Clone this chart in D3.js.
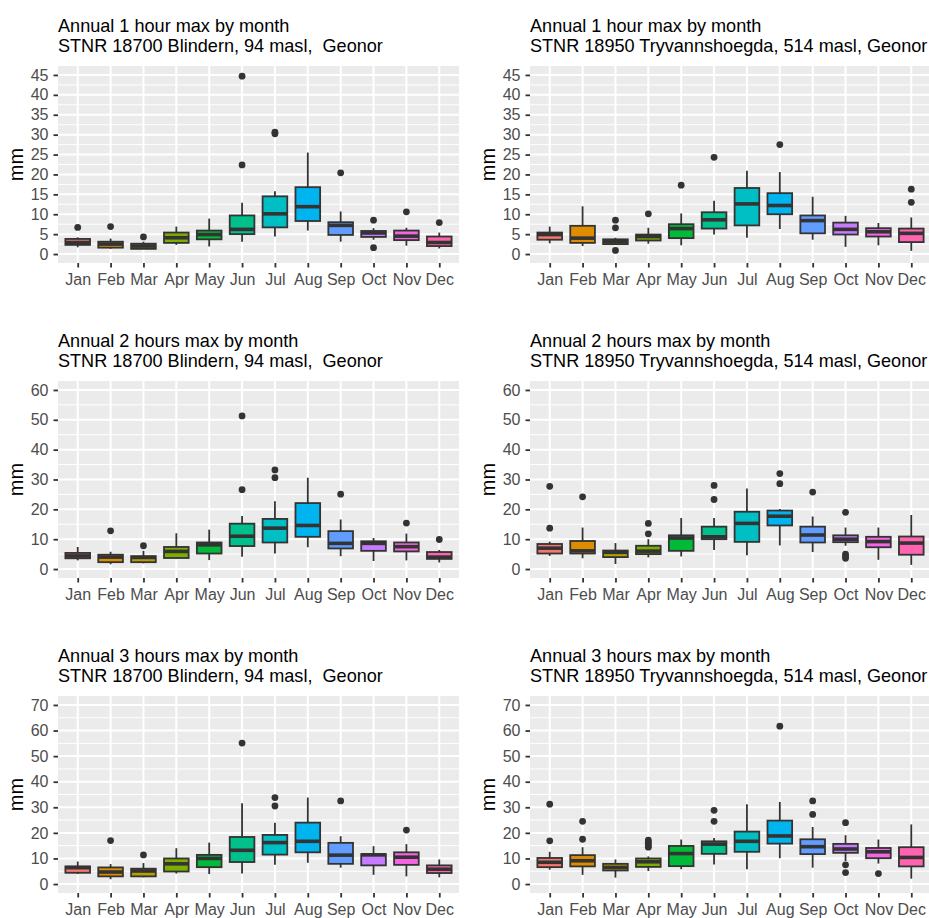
<!DOCTYPE html>
<html><head><meta charset="utf-8">
<script src="https://cdn.jsdelivr.net/npm/d3@7"></script>
<style>
body{margin:0;background:#fff;}
svg{display:block;font-family:"Liberation Sans",Arial,sans-serif;}
</style></head>
<body>
<svg id="chart" width="929" height="918"></svg>
<script>
const months = ["Jan","Feb","Mar","Apr","May","Jun","Jul","Aug","Sep","Oct","Nov","Dec"];
const palette = ["#F8766D","#DE8C00","#B79F00","#7CAE00","#00BA38","#00C08B","#00BFC4","#00B4F0","#619CFF","#C77CFF","#F564E3","#FF64B0"];

const titleLine2Blindern = "STNR 18700 Blindern, 94 masl,  Geonor";
const titleLine2Tryvann = "STNR 18950 Tryvannshoegda, 514 masl, Geonor";

const ticks1h = [0,5,10,15,20,25,30,35,40,45];
const ticks2h = [0,10,20,30,40,50,60];
const ticks3h = [0,10,20,30,40,50,60,70];

// 1 hour, Blindern
const b1_lo  = [1.7,1.3,1.3,2.3,1.9,3.1,4.4,5.9,3.1,3.6,2.1,1.4];
const b1_q1  = [2.3,1.6,1.3,2.8,3.7,5.0,6.7,8.3,4.8,4.3,3.5,2.0];
const b1_med = [2.9,2.5,2.0,4.1,4.9,6.2,10.1,11.9,7.2,5.3,4.5,2.9];
const b1_q3  = [3.8,3.1,2.6,5.4,5.9,9.7,14.5,16.8,8.0,5.8,5.9,4.4];
const b1_hi  = [4.2,3.9,3.1,6.9,8.9,12.9,15.8,25.5,10.7,6.5,6.6,5.4];
const b1_out = [[6.7],[6.9],[4.3],[],[],[22.4,44.7],[30.2,30.6],[],[20.4],[8.5,1.6],[10.6],[7.9]];

// 1 hour, Tryvannshoegda
const t1_lo  = [2.7,2.0,2.3,2.6,2.2,4.9,4.1,6.3,3.6,1.8,2.2,0.8];
const t1_q1  = [3.6,2.8,2.5,3.4,4.0,6.4,7.2,10.0,5.2,4.9,4.4,3.0];
const t1_med = [4.9,4.0,3.1,4.4,6.4,8.6,12.6,12.2,8.4,6.2,5.6,5.2];
const t1_q3  = [5.4,7.1,3.7,4.9,7.5,10.5,16.6,15.3,9.7,7.9,6.5,6.4];
const t1_hi  = [6.9,12.0,4.1,6.6,10.2,13.4,20.9,20.6,14.4,9.6,7.8,9.2];
const t1_out = [[],[],[8.5,6.6,0.9],[10.1],[17.3],[24.3],[],[27.5],[],[],[],[13.0,16.3]];

// 2 hours, Blindern
const b2_lo  = [2.9,1.6,1.9,3.4,3.0,4.1,5.2,7.3,4.3,2.7,2.9,2.2];
const b2_q1  = [3.6,2.3,2.3,3.7,5.2,7.7,8.9,10.8,6.9,6.1,5.9,3.4];
const b2_med = [4.4,4.0,3.9,5.9,8.1,11.0,13.7,14.6,8.6,8.6,7.5,4.0];
const b2_q3  = [5.4,4.8,4.3,7.4,8.9,15.2,16.8,22.1,12.7,9.3,8.9,5.7];
const b2_hi  = [7.4,5.8,6.1,12.0,13.2,17.8,22.7,30.6,16.6,10.4,11.9,6.4];
const b2_out = [[],[12.8],[7.8],[],[],[26.6,51.3],[30.6,33.2],[],[25.1],[],[15.4],[9.9]];

// 2 hours, Tryvannshoegda
const t2_lo  = [4.4,3.6,1.7,3.9,4.2,6.4,4.6,7.9,5.7,7.8,3.1,1.4];
const t2_q1  = [5.2,5.2,4.0,5.0,6.1,10.0,9.1,14.6,8.9,9.0,7.3,4.8];
const t2_med = [7.0,6.1,5.6,6.0,10.4,10.8,15.3,17.7,11.4,10.0,9.2,8.7];
const t2_q3  = [8.4,9.4,6.2,7.8,11.3,14.2,19.2,19.6,14.2,11.3,10.8,10.9];
const t2_hi  = [9.2,13.9,8.7,10.0,17.1,17.1,27.0,20.1,17.6,13.9,13.9,18.1];
const t2_out = [[13.7,27.7],[24.2],[],[11.8,15.3],[],[23.3,28.0],[],[28.6,32.0],[25.8],[19.0,5.0,4.3,3.6],[],[]];

// 3 hours, Blindern
const b3_lo  = [3.9,1.9,2.6,4.1,3.9,4.1,7.5,8.3,6.4,3.6,3.0,2.6];
const b3_q1  = [4.4,3.0,3.0,4.9,6.6,8.6,11.5,12.4,7.9,7.3,7.5,4.3];
const b3_med = [6.4,4.7,5.1,7.9,10.0,13.2,16.2,16.7,11.3,11.4,10.5,5.8];
const b3_q3  = [6.9,6.5,6.0,10.0,11.4,18.4,19.2,24.0,16.1,11.7,12.4,7.3];
const b3_hi  = [8.8,7.8,8.2,14.0,16.2,31.6,24.0,33.8,18.7,14.8,15.6,9.6];
const b3_out = [[],[17.0],[11.4],[],[],[55.1],[30.5,33.8],[],[32.5],[],[21.1],[]];

// 3 hours, Tryvannshoegda
const t3_lo  = [5.6,3.6,2.5,5.1,5.8,7.6,5.8,10.1,6.4,9.0,8.0,2.1];
const t3_q1  = [6.6,6.9,5.3,6.7,7.0,11.8,12.6,15.8,11.7,12.2,10.1,6.9];
const t3_med = [8.5,9.1,6.5,8.7,11.9,15.6,16.7,18.8,14.6,13.7,12.6,10.4];
const t3_q3  = [10.2,11.3,7.9,10.0,14.9,16.7,20.5,24.8,17.5,15.7,14.1,14.4];
const t3_hi  = [12.6,14.4,9.6,10.8,17.4,18.0,31.2,32.1,22.3,19.1,17.4,23.3];
const t3_out = [[16.9,31.2],[17.5,24.5],[],[14.4,15.0,15.8,16.5,17.2],[],[24.5,28.8],[],[61.7],[27.2,32.5],[24.0,7.5,4.5],[4.1],[]];

function pack(lo,q1,med,q3,hi,out){
  return months.map((m,i)=>({m, i, lo:lo[i], q1:q1[i], med:med[i], q3:q3[i], hi:hi[i], out:out[i]}));
}

const panels = [
  {t1:"Annual 1 hour max by month", t2:titleLine2Blindern, ymax:45, ticks:ticks1h, col:0, row:0, data:pack(b1_lo,b1_q1,b1_med,b1_q3,b1_hi,b1_out)},
  {t1:"Annual 1 hour max by month", t2:titleLine2Tryvann, ymax:45, ticks:ticks1h, col:1, row:0, data:pack(t1_lo,t1_q1,t1_med,t1_q3,t1_hi,t1_out)},
  {t1:"Annual 2 hours max by month", t2:titleLine2Blindern, ymax:60, ticks:ticks2h, col:0, row:1, data:pack(b2_lo,b2_q1,b2_med,b2_q3,b2_hi,b2_out)},
  {t1:"Annual 2 hours max by month", t2:titleLine2Tryvann, ymax:60, ticks:ticks2h, col:1, row:1, data:pack(t2_lo,t2_q1,t2_med,t2_q3,t2_hi,t2_out)},
  {t1:"Annual 3 hours max by month", t2:titleLine2Blindern, ymax:70, ticks:ticks3h, col:0, row:2, data:pack(b3_lo,b3_q1,b3_med,b3_q3,b3_hi,b3_out)},
  {t1:"Annual 3 hours max by month", t2:titleLine2Tryvann, ymax:70, ticks:ticks3h, col:1, row:2, data:pack(t3_lo,t3_q1,t3_med,t3_q3,t3_hi,t3_out)}
];

const svg = d3.select("#chart");
const colX = [58, 530];
const rowY = [66, 381, 696];
const PW = 401, PH = 197;
const LW = 1.8;

panels.forEach(p=>{
  const x0 = colX[p.col], y0 = rowY[p.row];
  const g = svg.append("g");
  const x = d3.scalePoint().domain(months).range([x0, x0+PW]).padding(0.6);
  const y = d3.scaleLinear().domain([-0.05*p.ymax, 1.05*p.ymax]).range([y0+PH, y0]);
  const step = x.step();
  const bw = step*0.75;

  // titles
  g.append("text").attr("x", x0).attr("y", y0-34).attr("font-size", 18.1).attr("fill","#000").text(p.t1);
  g.append("text").attr("x", x0).attr("y", y0-14).attr("font-size", 18.1).attr("fill","#000").style("white-space","pre").attr("xml:space","preserve").text(p.t2);

  // panel background
  g.append("rect").attr("x", x0).attr("y", y0).attr("width", PW).attr("height", PH).attr("fill", "#EBEBEB");

  // minor gridlines
  const stepT = p.ticks[1]-p.ticks[0];
  const minor = p.ticks.map(t=>t+stepT/2).filter(v=>v < 1.05*p.ymax);
  g.selectAll(".minor").data(minor).join("line")
    .attr("x1", x0).attr("x2", x0+PW).attr("y1", d=>y(d)).attr("y2", d=>y(d))
    .attr("stroke","#fff").attr("stroke-width",1);
  // major gridlines
  g.selectAll(".majy").data(p.ticks).join("line")
    .attr("x1", x0).attr("x2", x0+PW).attr("y1", d=>y(d)).attr("y2", d=>y(d))
    .attr("stroke","#fff").attr("stroke-width",2);
  g.selectAll(".majx").data(months).join("line")
    .attr("x1", d=>x(d)).attr("x2", d=>x(d)).attr("y1", y0).attr("y2", y0+PH)
    .attr("stroke","#fff").attr("stroke-width",2);

  // axes
  const ya = g.append("g").attr("transform", `translate(${x0},0)`)
    .call(d3.axisLeft(y).tickValues(p.ticks).tickSize(4.5).tickPadding(5));
  const xa = g.append("g").attr("transform", `translate(0,${y0+PH})`)
    .call(d3.axisBottom(x).tickSize(4.5).tickPadding(6));
  [ya, xa].forEach(a=>{
    a.select(".domain").remove();
    a.selectAll(".tick line").attr("stroke","#333333").attr("stroke-width",1.8);
    a.selectAll(".tick text").attr("fill","#4D4D4D").attr("font-size",16).attr("font-family",'"Liberation Sans",Arial,sans-serif');
  });

  // y axis title
  g.append("text").attr("transform", `translate(${x0-35.3},${y0+PH/2}) rotate(-90)`)
    .attr("text-anchor","middle").attr("font-size",20).attr("fill","#000").text("mm");

  // boxes
  const bx = g.selectAll(".box").data(p.data).join("g");
  bx.append("line").attr("x1", d=>x(d.m)).attr("x2", d=>x(d.m))
    .attr("y1", d=>y(d.hi)).attr("y2", d=>y(d.q3)).attr("stroke","#333333").attr("stroke-width",LW);
  bx.append("line").attr("x1", d=>x(d.m)).attr("x2", d=>x(d.m))
    .attr("y1", d=>y(d.q1)).attr("y2", d=>y(d.lo)).attr("stroke","#333333").attr("stroke-width",LW);
  bx.append("rect").attr("x", d=>x(d.m)-bw/2).attr("width", bw)
    .attr("y", d=>y(d.q3)).attr("height", d=>y(d.q1)-y(d.q3))
    .attr("fill", d=>palette[d.i]).attr("stroke","#333333").attr("stroke-width",LW);
  bx.append("line").attr("x1", d=>x(d.m)-bw/2).attr("x2", d=>x(d.m)+bw/2)
    .attr("y1", d=>y(d.med)).attr("y2", d=>y(d.med)).attr("stroke","#333333").attr("stroke-width",LW*2);
  bx.selectAll("circle").data(d=>d.out.map(v=>({m:d.m, v}))).join("circle")
    .attr("cx", d=>x(d.m)).attr("cy", d=>y(d.v)).attr("r",3.4).attr("fill","#333333");
});
</script>
</body></html>
